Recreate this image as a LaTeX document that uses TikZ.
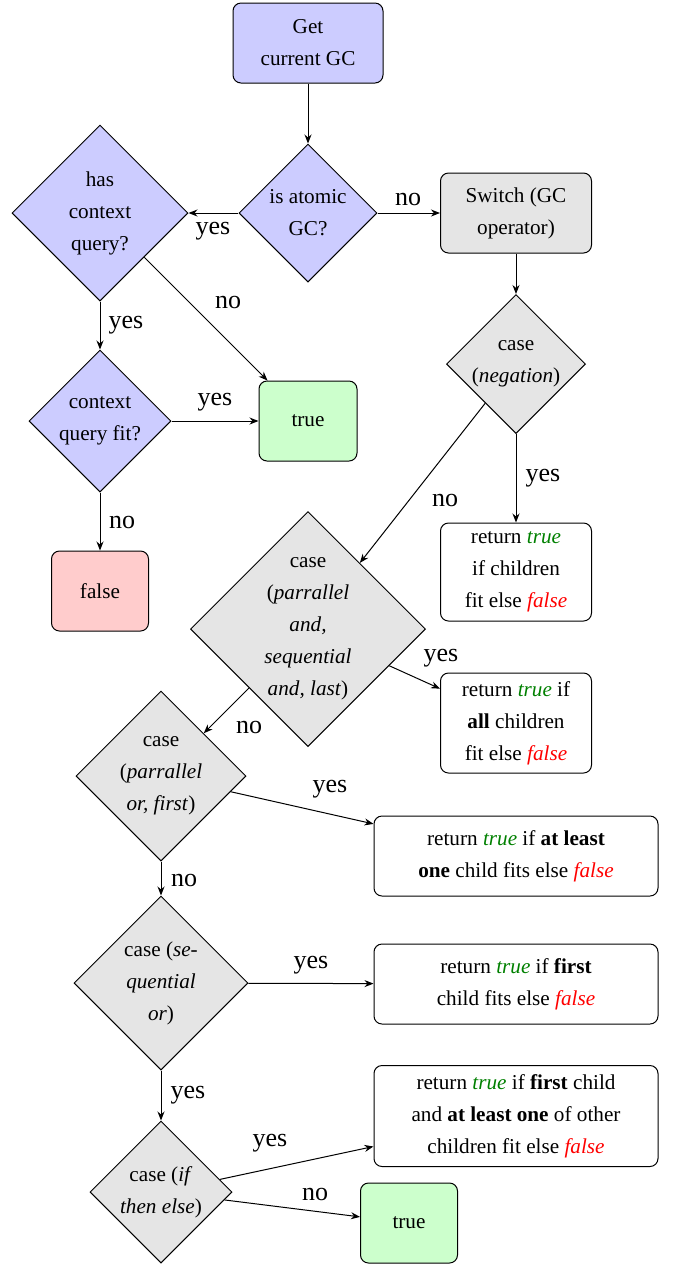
\documentclass[tikz,border=0pt]{standalone}
\usepackage{fontspec}
\setmainfont{Liberation Serif}
\usetikzlibrary{shapes.geometric,arrows.meta}
\definecolor{tgreen}{RGB}{0,128,0}
\newcommand{\tv}{\textcolor{tgreen}{\textit{true}}}
\newcommand{\fv}{\textcolor{red}{\textit{false}}}
\begin{document}
\begin{tikzpicture}[x=0.5pt,y=-0.5pt,
  base/.style={draw=black,line width=0.5pt,align=center,font=\fontsize{10.6}{16}\selectfont},
  box/.style={base,rectangle,rounded corners=4pt,inner sep=1pt},
  dec/.style={base,diamond,aspect=1,inner sep=0pt},
  bluef/.style={fill=blue!20},
  grayf/.style={fill=gray!20},
  greenf/.style={fill=green!20},
  redf/.style={fill=red!20},
  lbl/.style={font=\fontsize{13}{15}\selectfont,inner sep=0pt},
  conn/.style={draw=black,line width=0.5pt,-{Stealth[length=4.5pt,width=3.5pt]}}
]
\useasboundingbox (0,0) rectangle (673,1266);

% rectangles
\node[box,bluef,minimum width=75pt,minimum height=40pt] (get) at (308,43) {Get\\current GC};
\node[box,grayf,minimum width=75.5pt,minimum height=40pt] (switch) at (516,213) {Switch (GC\\operator)};
\node[box,greenf,minimum width=49pt,minimum height=40pt] (true1) at (308,421) {true};
\node[box,redf,minimum width=48.5pt,minimum height=40pt] (false) at (100,591) {false};
\node[box,minimum width=75.5pt,minimum height=49pt] (ret1) at (516,572) {return \tv\\if children\\fit else \fv};
\node[box,minimum width=75.5pt,minimum height=50pt] (ret2) at (516,723) {return \tv{} if\\\textbf{all} children\\fit else \fv};
\node[box,minimum width=142pt,minimum height=40pt] (ret3) at (516,856) {return \tv{} if \textbf{at least}\\\textbf{one} child fits else \fv};
\node[box,minimum width=142pt,minimum height=40pt] (ret4) at (516,984) {return \tv{} if \textbf{first}\\child fits else \fv};
\node[box,minimum width=142pt,minimum height=50.5pt] (ret5) at (516,1116) {return \tv{} if \textbf{first} child\\and \textbf{at least one} of other\\children fit else \fv};
\node[box,greenf,minimum width=48.5pt,minimum height=40pt] (true2) at (409,1223) {true};

% diamonds
\node[dec,bluef,minimum width=69pt,minimum height=69pt] (atomic) at (308,213) {is atomic\\GC?};
\node[dec,bluef,minimum width=88pt,minimum height=88pt] (hasctx) at (100,213) {has\\context\\query?};
\node[dec,bluef,minimum width=71pt,minimum height=71pt] (ctxfit) at (100,421) {context\\query fit?};
\node[dec,grayf,minimum width=69.5pt,minimum height=69.5pt] (neg) at (516,364) {case\\(\textit{negation})};
\node[dec,grayf,minimum width=117.5pt,minimum height=117.5pt] (pand) at (308,629) {case\\(\textit{parrallel}\\\textit{and,}\\\textit{sequential}\\\textit{and, last})};
\node[dec,grayf,minimum width=85pt,minimum height=85pt] (por) at (161,776) {case\\(\textit{parrallel}\\\textit{or, first})};
\node[dec,grayf,minimum width=87pt,minimum height=87pt] (sor) at (161,983) {case (\textit{se-}\\\textit{quential}\\\textit{or})};
\node[dec,grayf,minimum width=71pt,minimum height=71pt] (ite) at (161,1192) {case (\textit{if}\\\textit{then else})};

% connectors
\draw[conn] (get) -- (atomic);
\draw[conn] (atomic) -- (hasctx);
\draw[conn] (atomic) -- (switch);
\draw[conn] (hasctx) -- (true1);
\draw[conn] (hasctx) -- (ctxfit);
\draw[conn] (ctxfit) -- (true1);
\draw[conn] (ctxfit) -- (false);
\draw[conn] (switch) -- (neg);
\draw[conn] (neg) -- (ret1);
\draw[conn] (neg) -- (pand);
\draw[conn] (pand) -- (ret2);
\draw[conn] (pand) -- (por);
\draw[conn] (por) -- (ret3);
\draw[conn] (por) -- (sor);
\draw[conn] (sor) -- (ret4);
\draw[conn] (sor) -- (ite);
\draw[conn] (ite) -- (ret5);
\draw[conn] (ite) -- (true2);

% labels
\node[lbl] (l1) at (213,231) {yes};
\node[lbl] (l2) at (408,199) {no};
\node[lbl] (l3) at (228,302) {no};
\node[lbl] (l4) at (126,325) {yes};
\node[lbl] (l5) at (215,402) {yes};
\node[lbl] (l6) at (122,522) {no};
\node[lbl] (l7) at (543,478) {yes};
\node[lbl] (l8) at (445,500) {no};
\node[lbl] (l9) at (441,658) {yes};
\node[lbl] (l10) at (249,727) {no};
\node[lbl] (l11) at (330,789) {yes};
\node[lbl] (l12) at (184,880) {no};
\node[lbl] (l13) at (311,965) {yes};
\node[lbl] (l14) at (188,1095) {yes};
\node[lbl] (l15) at (270,1143) {yes};
\node[lbl] (l16) at (315,1194) {no};
\end{tikzpicture}
\end{document}
